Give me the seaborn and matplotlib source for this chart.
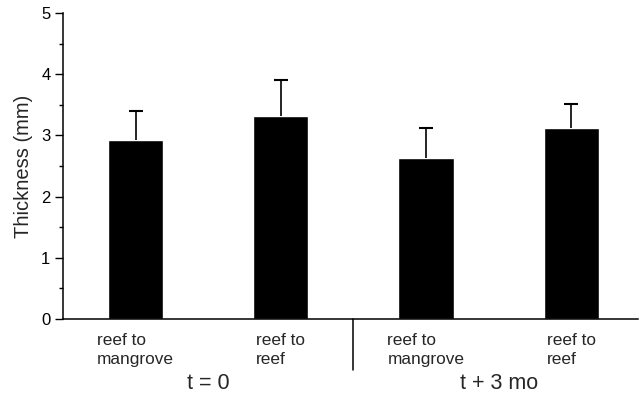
import numpy as np
import pandas as pd
import seaborn as sns
from matplotlib import pyplot as plt
from matplotlib.ticker import MultipleLocator

# data
categories = ['r2m_0', 'r2r_0', 'r2m_3', 'r2r_3']
tick_labels = ['reef to\nmangrove', 'reef to\nreef', 'reef to\nmangrove', 'reef to\nreef']
thickness = [2.92, 3.31, 2.63, 3.12]
sem = [0.48, 0.59, 0.49, 0.39]
groups = ['t = 0', 't + 3 mo']

sns.set_style('ticks')
plt.rcParams['font.family'] = ['Liberation Sans', 'DejaVu Sans']
plt.rcParams['axes.edgecolor'] = 'black'
plt.rcParams['axes.linewidth'] = 1.1

df_data = pd.DataFrame({'cat': categories, 'val': thickness})

fig = plt.figure(figsize=(6.4, 3.95), dpi=100)
ax = fig.add_axes([0.0984, 0.1924, 0.8984, 0.7747])

sns.barplot(data=df_data, x='cat', y='val', color='black', saturation=1,
            width=0.38, errorbar=None, ax=ax)
xs = np.arange(len(categories))
eb = ax.errorbar(xs, thickness, yerr=[np.zeros(len(sem)), sem], fmt='none',
                 ecolor='black', elinewidth=1.2, capsize=5, capthick=1.5)
# keep only the upper caps
eb[1][0].remove()

ax.set_xlim(-0.5, 3.46)
ax.set_ylim(0, 5)
ax.yaxis.set_major_locator(MultipleLocator(1))
ax.yaxis.set_minor_locator(MultipleLocator(0.5))
ax.tick_params(axis='y', which='major', length=6, width=1, labelsize=12, pad=3, colors='black')
ax.tick_params(axis='y', which='minor', length=3, width=1, colors='black')
ax.set_xticks(xs)
ax.set_xticklabels(tick_labels, ha='center', multialignment='left', fontsize=12.4,
                   linespacing=1.35)
ax.tick_params(axis='x', length=0, pad=10)
ax.set_xlabel('')
ax.set_ylabel('Thickness (mm)', fontsize=14.5, labelpad=6)
sns.despine(ax=ax)

# group separator and group labels
tr = ax.get_xaxis_transform()
ax.plot([1.5, 1.5], [0, -0.167], color='black', lw=1.1, transform=tr, clip_on=False)
ax.text(0.5, -0.21, groups[0], transform=tr, ha='center', va='center', fontsize=15.5)
ax.text(2.5, -0.21, groups[1], transform=tr, ha='center', va='center', fontsize=15.5)

plt.savefig('out.png', dpi=100)
